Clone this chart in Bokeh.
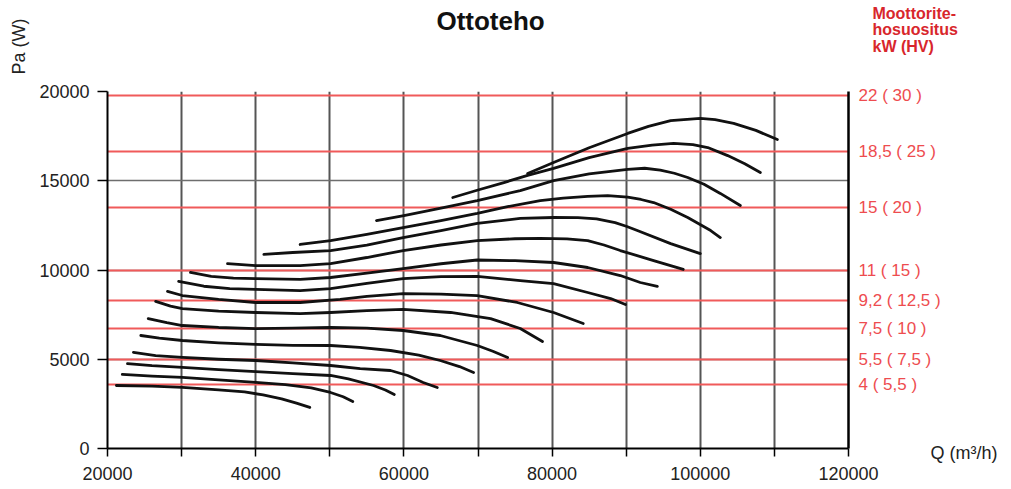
import math
from bokeh.plotting import figure
from bokeh.models import Range1d, LinearAxis, FixedTicker, Label, BasicTickFormatter
from bokeh.embed import file_html
from bokeh.resources import INLINE

# ---------------- data ----------------
x_ticks = [20000, 30000, 40000, 50000, 60000, 70000, 80000, 90000, 100000, 110000, 120000]
x_labelled = [20000, 40000, 60000, 80000, 100000, 120000]
y_ticks = [0, 5000, 10000, 15000, 20000]

motor_pa = [19800, 16650, 13500, 9950, 8300, 6750, 4980, 3600]
motor_labels = ["22 ( 30 )", "18,5 ( 25 )", "15 ( 20 )", "11 ( 15 )",
                "9,2 ( 12,5 )", "7,5 ( 10 )", "5,5 ( 7,5 )", "4 ( 5,5 )"]

c01_q = [21200, 26000, 30100, 35000, 38500, 41000, 43500, 45500, 47300]
c01_pa = [3530, 3490, 3420, 3290, 3170, 3000, 2780, 2540, 2300]
c02_q = [22000, 26000, 30100, 35000, 40000, 44000, 47500, 50100, 51800, 53100]
c02_pa = [4150, 4060, 3980, 3850, 3700, 3580, 3400, 3140, 2900, 2630]
c03_q = [22700, 26000, 30100, 35000, 40000, 45000, 50100, 52500, 55900, 57500, 58700]
c03_pa = [4760, 4640, 4540, 4420, 4310, 4200, 4090, 3900, 3530, 3280, 3030]
c04_q = [23500, 26500, 30100, 35000, 40000, 45000, 50100, 54100, 58200, 60500, 62600, 64500]
c04_pa = [5380, 5200, 5100, 5000, 4930, 4800, 4650, 4480, 4370, 4090, 3700, 3420]
c05_q = [24500, 27000, 30100, 35000, 40000, 45000, 50100, 54000, 58200, 62000, 64900, 67500, 69400]
c05_pa = [6330, 6180, 6050, 5920, 5830, 5780, 5770, 5660, 5490, 5230, 4930, 4590, 4260]
c06_q = [25500, 28000, 30100, 35000, 40000, 45000, 50100, 55000, 59900, 64900, 69900, 72000, 74000]
c06_pa = [7280, 7050, 6890, 6780, 6720, 6740, 6780, 6740, 6610, 6330, 5770, 5450, 5100]
c07_q = [26500, 28500, 30100, 35000, 40000, 46000, 50100, 55000, 59900, 66300, 71700, 75700, 78700]
c07_pa = [8240, 7980, 7840, 7700, 7620, 7560, 7620, 7720, 7790, 7620, 7280, 6720, 5990]
c08_q = [28100, 30100, 35000, 40000, 46000, 51400, 55000, 59900, 65000, 69900, 75300, 80200, 84200]
c08_pa = [8800, 8570, 8350, 8180, 8180, 8350, 8520, 8680, 8650, 8570, 8180, 7620, 7000]
c09_q = [29600, 33000, 36500, 40000, 46000, 50100, 55000, 59900, 65000, 69900, 75700, 80200, 84800, 87900, 89900]
c09_pa = [9360, 9090, 8960, 8910, 8850, 8960, 9250, 9520, 9630, 9640, 9410, 9240, 8740, 8400, 8070]
c10_q = [31200, 34000, 37000, 40000, 46000, 50100, 55000, 59900, 65000, 69900, 75000, 80200, 84800, 89200, 91900, 94200]
c10_pa = [9860, 9640, 9550, 9520, 9470, 9580, 9830, 10080, 10350, 10560, 10520, 10420, 10140, 9690, 9300, 9080]
c11_q = [36200, 40000, 46000, 50100, 55000, 59900, 65000, 69900, 75000, 78400, 82000, 84800, 87000, 89200, 93700, 97700]
c11_pa = [10360, 10250, 10250, 10360, 10700, 11090, 11400, 11650, 11750, 11770, 11740, 11650, 11400, 11090, 10530, 10030]
c12_q = [41100, 45000, 50100, 55000, 59900, 65000, 69900, 75700, 80200, 83500, 86000, 88500, 90000, 91500, 96000, 100000]
c12_pa = [10870, 10980, 11090, 11400, 11820, 12200, 12610, 12890, 12940, 12930, 12860, 12650, 12450, 12210, 11480, 10920]
c13_q = [46000, 50100, 55000, 59900, 65000, 69900, 74000, 78400, 81500, 84800, 87500, 90200, 92000, 93700, 96000, 98300, 101400, 102700]
c13_pa = [11430, 11650, 12000, 12380, 12770, 13170, 13550, 13890, 14030, 14120, 14170, 14080, 13950, 13780, 13400, 12940, 12210, 11820]
c14_q = [56300, 60000, 65000, 69900, 75700, 80200, 85000, 90200, 92500, 94600, 96500, 98300, 100500, 102700, 105400]
c14_pa = [12770, 13050, 13470, 13890, 14450, 15010, 15380, 15640, 15700, 15600, 15420, 15180, 14800, 14290, 13610]
c15_q = [66600, 70000, 73500, 76700, 80200, 85000, 90200, 93500, 96400, 99000, 101000, 103700, 106000, 108100]
c15_pa = [14060, 14480, 14900, 15300, 15690, 16300, 16810, 17000, 17090, 17020, 16860, 16410, 15950, 15460]
c16_q = [76700, 80200, 85000, 90200, 93000, 96000, 100000, 102000, 104500, 107500, 110400]
c16_pa = [15410, 16020, 16850, 17650, 18050, 18370, 18490, 18420, 18210, 17820, 17310]

curves_q = [c01_q, c02_q, c03_q, c04_q, c05_q, c06_q, c07_q, c08_q,
            c09_q, c10_q, c11_q, c12_q, c13_q, c14_q, c15_q, c16_q]
curves_pa = [c01_pa, c02_pa, c03_pa, c04_pa, c05_pa, c06_pa, c07_pa, c08_pa,
             c09_pa, c10_pa, c11_pa, c12_pa, c13_pa, c14_pa, c15_pa, c16_pa]

# ---------------- figure ----------------
FONT = "Liberation Sans"
RED_LINE = "#f05a5a"
RED_TEXT = "#ee4c4f"

p = figure(width=1011, height=489,
           x_range=Range1d(20000, 120000), y_range=Range1d(0, 20000),
           output_backend="svg", toolbar_location=None,
           min_border_left=107, min_border_right=163,
           min_border_top=91, min_border_bottom=41)
p.outline_line_color = None
p.background_fill_color = "white"
p.border_fill_color = "white"

# grids
p.xgrid.ticker = FixedTicker(ticks=x_ticks)
p.xgrid.grid_line_color = "#555555"
p.xgrid.grid_line_width = 2
p.ygrid.ticker = FixedTicker(ticks=y_ticks)
p.ygrid.grid_line_color = "#6e6e6e"
p.ygrid.grid_line_width = 1.6

# x axis
xa = p.xaxis[0]
xa.ticker = FixedTicker(ticks=x_ticks)
xa.formatter = BasicTickFormatter(use_scientific=False)
xa.major_label_overrides = {t: "" for t in x_ticks if t not in x_labelled}
xa.axis_line_color = "black"
xa.axis_line_width = 2
xa.major_tick_line_color = "black"
xa.major_tick_line_width = 1.5
xa.major_tick_out = 8
xa.major_tick_in = 0
xa.minor_tick_line_color = None
xa.major_label_standoff = 10
xa.major_label_text_font = FONT
xa.major_label_text_font_size = "18px"
xa.major_label_text_color = "#222222"

# y axis
ya = p.yaxis[0]
ya.ticker = FixedTicker(ticks=y_ticks)
ya.formatter = BasicTickFormatter(use_scientific=False)
ya.axis_line_color = "black"
ya.axis_line_width = 2
ya.major_tick_line_color = "black"
ya.major_tick_line_width = 1.5
ya.major_tick_out = 10
ya.major_tick_in = 0
ya.minor_tick_line_color = None
ya.major_label_standoff = 8
ya.major_label_text_font = FONT
ya.major_label_text_font_size = "18px"
ya.major_label_text_color = "#222222"

# right axis: motor power
ra = LinearAxis(ticker=FixedTicker(ticks=motor_pa),
                major_label_overrides=dict(zip(motor_pa, motor_labels)))
ra.axis_line_color = "black"
ra.axis_line_width = 2.5
ra.major_tick_out = 0
ra.major_tick_in = 0
ra.major_tick_line_color = None
ra.minor_tick_line_color = None
ra.major_label_standoff = 10
ra.major_label_text_font = FONT
ra.major_label_text_font_size = "17px"
ra.major_label_text_color = RED_TEXT
p.add_layout(ra, "right")

# red motor-power lines
p.hspan(y=motor_pa, line_color=RED_LINE, line_width=2.2)

# fan curves
p.multi_line(xs=curves_q, ys=curves_pa, line_color="#111111", line_width=2.8,
             line_cap="round", line_join="round")

# texts (placed in side panels so they are not clipped to the frame)
p.add_layout(Label(x=71700, y=23977, text="Ottoteho", text_font=FONT,
                   text_font_size="26px", text_font_style="bold",
                   text_align="center", text_baseline="middle",
                   text_color="#111111"), "above")
for txt, yy in [("Moottorite-", 24369), ("hosuositus", 23472), ("kW (HV)", 22520)]:
    p.add_layout(Label(x=123237, y=yy, text=txt, text_font=FONT,
                       text_font_size="16px", text_font_style="bold",
                       text_align="left", text_baseline="middle",
                       text_color="#d8262c"), "above")
p.add_layout(Label(x=8000, y=22520, text="Pa (W)", text_font=FONT,
                   text_font_size="18px", angle=math.pi / 2,
                   text_align="center", text_baseline="middle",
                   text_color="#222222"), "left")
p.add_layout(Label(x=131066, y=-280, text="Q (m³/h)", text_font=FONT,
                   text_font_size="18px", text_align="left",
                   text_baseline="middle", text_color="#222222"), "right")

open("out.html", "w").write(file_html(p, INLINE))
